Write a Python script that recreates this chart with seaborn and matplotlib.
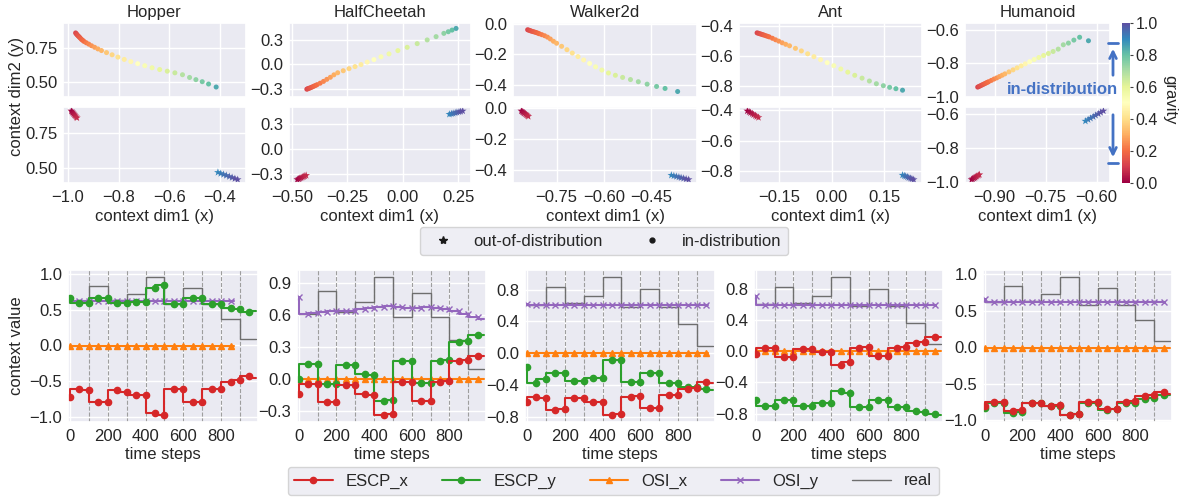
########################################################
# Required Python Packages
########################################################

import matplotlib
matplotlib.use("Agg")
import matplotlib as mpl
import matplotlib.pyplot as plt
from matplotlib.lines import Line2D
from matplotlib.patches import FancyArrowPatch
import seaborn as sns

########################################################
# Data : context embeddings (top) and context values (bottom)
########################################################

ENVS = ["Hopper", "HalfCheetah", "Walker2d", "Ant", "Humanoid"]

# gravity of every in-distribution point (same order for all envs)
G_ID = [0.12, 0.13, 0.14, 0.15, 0.16, 0.17, 0.18, 0.19, 0.20, 0.22, 0.24,
        0.26, 0.28, 0.30, 0.32, 0.35, 0.38, 0.41, 0.44, 0.47, 0.50, 0.53,
        0.56, 0.59, 0.62, 0.65, 0.68, 0.71, 0.74, 0.77, 0.80, 0.84]
# gravity of the out-of-distribution points (low cluster, high cluster)
G_OOD = [0.00, 0.01, 0.02, 0.03, 0.04, 0.05, 0.06, 0.07,
         0.90, 0.915, 0.93, 0.945, 0.96, 0.975, 0.99, 1.00]

HOPPER_ID_X = [-0.970, -0.967, -0.964, -0.960, -0.956, -0.952, -0.947, -0.942,
               -0.937, -0.928, -0.918, -0.907, -0.895, -0.882, -0.868, -0.848,
               -0.826, -0.803, -0.778, -0.752, -0.725, -0.697, -0.668, -0.638,
               -0.608, -0.578, -0.548, -0.520, -0.495, -0.470, -0.445, -0.415]
HOPPER_ID_Y = [0.862, 0.855, 0.848, 0.840, 0.833, 0.825, 0.815, 0.808,
               0.800, 0.790, 0.780, 0.768, 0.757, 0.745, 0.733, 0.718,
               0.702, 0.685, 0.668, 0.652, 0.637, 0.622, 0.607, 0.594,
               0.582, 0.570, 0.556, 0.536, 0.520, 0.505, 0.488, 0.466]
HOPPER_OOD_X = [-0.987, -0.984, -0.981, -0.978, -0.975, -0.972, -0.968, -0.965,
                -0.408, -0.397, -0.386, -0.375, -0.363, -0.352, -0.341, -0.330]
HOPPER_OOD_Y = [0.910, 0.903, 0.896, 0.889, 0.882, 0.875, 0.867, 0.860,
                0.466, 0.458, 0.451, 0.444, 0.436, 0.429, 0.421, 0.414]

CHEETAH_ID_X = [-0.432, -0.428, -0.423, -0.418, -0.412, -0.406, -0.400, -0.393,
                -0.386, -0.372, -0.357, -0.342, -0.326, -0.310, -0.293, -0.268,
                -0.242, -0.215, -0.188, -0.160, -0.130, -0.098, -0.062, -0.022,
                0.020, 0.065, 0.110, 0.150, 0.185, 0.205, 0.222, 0.240]
CHEETAH_ID_Y = [-0.305, -0.300, -0.295, -0.290, -0.283, -0.276, -0.268, -0.260,
                -0.250, -0.232, -0.210, -0.185, -0.160, -0.130, -0.105, -0.080,
                -0.055, -0.030, -0.005, 0.025, 0.055, 0.090, 0.125, 0.165,
                0.205, 0.250, 0.295, 0.335, 0.375, 0.395, 0.415, 0.435]
CHEETAH_OOD_X = [-0.475, -0.469, -0.464, -0.458, -0.452, -0.446, -0.441, -0.435,
                 0.210, 0.219, 0.227, 0.236, 0.244, 0.253, 0.261, 0.270]
CHEETAH_OOD_Y = [-0.365, -0.358, -0.351, -0.344, -0.336, -0.329, -0.322, -0.315,
                 0.420, 0.426, 0.431, 0.437, 0.443, 0.449, 0.454, 0.460]

WALKER_ID_X = [-0.842, -0.838, -0.834, -0.830, -0.825, -0.820, -0.815, -0.810,
               -0.805, -0.797, -0.788, -0.779, -0.770, -0.760, -0.750, -0.734,
               -0.717, -0.700, -0.682, -0.664, -0.645, -0.626, -0.606, -0.585,
               -0.563, -0.540, -0.515, -0.490, -0.462, -0.432, -0.405, -0.365]
WALKER_ID_Y = [-0.040, -0.043, -0.046, -0.049, -0.052, -0.055, -0.058, -0.062,
               -0.066, -0.072, -0.079, -0.088, -0.100, -0.115, -0.128, -0.148,
               -0.170, -0.192, -0.215, -0.237, -0.260, -0.282, -0.303, -0.322,
               -0.337, -0.351, -0.365, -0.379, -0.395, -0.410, -0.423, -0.443]
WALKER_OOD_X = [-0.862, -0.859, -0.856, -0.853, -0.849, -0.846, -0.843, -0.840,
                -0.385, -0.377, -0.369, -0.361, -0.354, -0.346, -0.338, -0.330]
WALKER_OOD_Y = [-0.018, -0.023, -0.028, -0.033, -0.038, -0.043, -0.048, -0.053,
                -0.432, -0.436, -0.440, -0.444, -0.448, -0.452, -0.456, -0.460]

ANT_ID_X = [-0.214, -0.210, -0.206, -0.202, -0.198, -0.194, -0.189, -0.184,
            -0.179, -0.170, -0.161, -0.152, -0.142, -0.132, -0.121, -0.104,
            -0.087, -0.069, -0.051, -0.032, -0.013, 0.006, 0.026, 0.046,
            0.066, 0.087, 0.108, 0.128, 0.148, 0.166, 0.184, 0.203]
ANT_ID_Y = [-0.448, -0.451, -0.454, -0.457, -0.460, -0.463, -0.467, -0.471,
            -0.475, -0.484, -0.494, -0.503, -0.514, -0.524, -0.534, -0.551,
            -0.568, -0.587, -0.606, -0.626, -0.646, -0.666, -0.688, -0.709,
            -0.730, -0.749, -0.768, -0.786, -0.799, -0.810, -0.819, -0.829]
ANT_OOD_X = [-0.242, -0.237, -0.233, -0.228, -0.224, -0.219, -0.215, -0.210,
             0.203, 0.208, 0.212, 0.217, 0.221, 0.226, 0.230, 0.235]
ANT_OOD_Y = [-0.405, -0.411, -0.417, -0.423, -0.430, -0.436, -0.442, -0.448,
             -0.826, -0.830, -0.834, -0.838, -0.843, -0.847, -0.851, -0.855]

HUMANOID_ID_X = [-0.950, -0.946, -0.942, -0.938, -0.934, -0.930, -0.926, -0.922,
                 -0.918, -0.910, -0.902, -0.894, -0.886, -0.878, -0.870, -0.858,
                 -0.846, -0.834, -0.822, -0.810, -0.797, -0.784, -0.770, -0.756,
                 -0.742, -0.728, -0.713, -0.698, -0.683, -0.667, -0.650, -0.624]
HUMANOID_ID_Y = [-0.943, -0.939, -0.935, -0.931, -0.927, -0.923, -0.919, -0.915,
                 -0.911, -0.903, -0.895, -0.888, -0.880, -0.872, -0.864, -0.852,
                 -0.840, -0.828, -0.816, -0.804, -0.791, -0.778, -0.766, -0.754,
                 -0.742, -0.730, -0.716, -0.690, -0.680, -0.662, -0.645, -0.666]
HUMANOID_OOD_X = [-0.968, -0.965, -0.961, -0.958, -0.955, -0.952, -0.948, -0.945,
                  -0.633, -0.625, -0.618, -0.610, -0.603, -0.595, -0.588, -0.580]
HUMANOID_OOD_Y = [-0.985, -0.981, -0.977, -0.973, -0.968, -0.964, -0.960, -0.956,
                  -0.640, -0.631, -0.623, -0.614, -0.606, -0.597, -0.589, -0.580]

# time steps: marker every 50 steps, last entry is where the line stops
T_FULL = [0, 50, 100, 150, 200, 250, 300, 350, 400, 450, 500,
          550, 600, 650, 700, 750, 800, 850, 900, 950, 985]
T_SHORT = [0, 50, 100, 150, 200, 250, 300, 350, 400, 450, 500,
           550, 600, 650, 700, 750, 800, 850, 900, 950, 960]
T_HOPPER_OSI = [0, 50, 100, 150, 200, 250, 300, 350, 400, 450,
                500, 550, 600, 650, 700, 750, 800, 850, 870]

REAL_T = [0, 100, 200, 300, 400, 500, 600, 700, 800, 900, 985]
REAL_V = [0.61, 0.83, 0.63, 0.72, 0.96, 0.58, 0.81, 0.58, 0.37, 0.09, 0.09]

HOPPER_ESCP_X = [-0.72, -0.62, -0.63, -0.80, -0.80, -0.63, -0.65, -0.70, -0.70, -0.95, -0.98,
                 -0.62, -0.62, -0.79, -0.79, -0.62, -0.62, -0.51, -0.49, -0.43, -0.46]
HOPPER_ESCP_Y = [0.67, 0.59, 0.59, 0.67, 0.67, 0.59, 0.59, 0.61, 0.61, 0.80, 0.85,
                 0.58, 0.58, 0.67, 0.66, 0.58, 0.58, 0.53, 0.51, 0.47, 0.48]
HOPPER_OSI_X = [-0.01, -0.01, -0.01, -0.01, -0.01, -0.01, -0.01, -0.01, -0.01, -0.01,
                -0.01, -0.01, -0.01, -0.01, -0.01, -0.01, -0.01, -0.01, -0.01]
HOPPER_OSI_Y = [0.64, 0.62, 0.62, 0.62, 0.62, 0.62, 0.62, 0.62, 0.62, 0.62,
                0.62, 0.62, 0.62, 0.62, 0.62, 0.62, 0.62, 0.62, 0.62]

CHEETAH_ESCP_X = [-0.14, -0.05, -0.05, -0.22, -0.22, -0.06, -0.06, -0.14, -0.15, -0.34, -0.33,
                  -0.03, -0.03, -0.21, -0.21, -0.03, -0.02, 0.17, 0.18, 0.22, 0.22]
CHEETAH_ESCP_Y = [0.00, 0.14, 0.14, -0.05, -0.05, 0.13, 0.13, 0.05, 0.04, -0.21, -0.20,
                  0.17, 0.17, -0.04, -0.04, 0.17, 0.18, 0.35, 0.36, 0.41, 0.41]
CHEETAH_OSI_X = [0.00, 0.00, 0.00, 0.00, 0.00, 0.00, 0.00, 0.00, 0.00, 0.00, 0.00,
                 0.00, 0.00, 0.00, 0.00, 0.00, 0.00, 0.00, 0.00, 0.00, 0.00]
CHEETAH_OSI_Y = [0.77, 0.61, 0.62, 0.63, 0.64, 0.64, 0.64, 0.66, 0.67, 0.68, 0.69,
                 0.68, 0.67, 0.67, 0.68, 0.67, 0.66, 0.64, 0.61, 0.58, 0.56]

WALKER_ESCP_X = [-0.62, -0.55, -0.56, -0.72, -0.70, -0.56, -0.56, -0.61, -0.62, -0.78, -0.77,
                 -0.55, -0.54, -0.69, -0.69, -0.53, -0.53, -0.45, -0.44, -0.36, -0.38]
WALKER_ESCP_Y = [-0.17, -0.37, -0.33, -0.25, -0.25, -0.35, -0.35, -0.31, -0.31, -0.08, -0.09,
                 -0.36, -0.36, -0.25, -0.25, -0.37, -0.38, -0.42, -0.42, -0.45, -0.46]
WALKER_OSI_X = [0.00, 0.00, 0.00, 0.00, 0.00, 0.00, 0.00, 0.00, 0.00, 0.00, 0.00,
                0.00, 0.00, 0.00, 0.00, 0.00, 0.00, 0.00, 0.00, 0.00, 0.00]
WALKER_OSI_Y = [0.62, 0.61, 0.61, 0.61, 0.61, 0.61, 0.61, 0.61, 0.61, 0.61, 0.61,
                0.61, 0.61, 0.61, 0.61, 0.61, 0.61, 0.61, 0.60, 0.60, 0.60]

ANT_ESCP_X = [-0.03, 0.04, 0.04, -0.07, -0.07, 0.03, 0.03, -0.01, -0.01, -0.17, -0.14,
              0.05, 0.06, -0.06, -0.06, 0.05, 0.06, 0.11, 0.12, 0.19, 0.19]
ANT_ESCP_Y = [-0.62, -0.70, -0.70, -0.62, -0.62, -0.70, -0.70, -0.67, -0.67, -0.51, -0.53,
              -0.72, -0.72, -0.63, -0.63, -0.72, -0.72, -0.77, -0.78, -0.81, -0.82]
ANT_OSI_X = [0.00, 0.00, 0.00, 0.00, 0.00, 0.00, 0.00, 0.00, 0.00, 0.00, 0.00,
             0.00, 0.00, 0.00, 0.00, 0.00, 0.00, 0.00, 0.00, 0.00, 0.00]
ANT_OSI_Y = [0.71, 0.60, 0.60, 0.60, 0.60, 0.60, 0.60, 0.60, 0.60, 0.60, 0.60,
             0.60, 0.60, 0.60, 0.60, 0.60, 0.60, 0.60, 0.60, 0.60, 0.60]

HUMANOID_ESCP_X = [-0.80, -0.75, -0.75, -0.87, -0.86, -0.76, -0.77, -0.80, -0.79, -0.93, -0.91,
                   -0.75, -0.745, -0.85, -0.84, -0.75, -0.74, -0.67, -0.66, -0.62, -0.64]
HUMANOID_ESCP_Y = [-0.83, -0.77, -0.77, -0.90, -0.89, -0.77, -0.77, -0.80, -0.80, -0.93, -0.92,
                   -0.76, -0.76, -0.86, -0.85, -0.77, -0.76, -0.71, -0.69, -0.66, -0.65]
HUMANOID_OSI_X = [-0.01, -0.01, -0.01, -0.01, -0.01, -0.01, -0.01, -0.01, -0.01, -0.01, -0.01,
                  -0.01, -0.01, -0.01, -0.01, -0.01, -0.01, -0.01, -0.01, -0.01, -0.01]
HUMANOID_OSI_Y = [0.66, 0.62, 0.62, 0.62, 0.62, 0.62, 0.62, 0.62, 0.62, 0.62, 0.62,
                  0.62, 0.62, 0.62, 0.62, 0.62, 0.62, 0.62, 0.62, 0.62, 0.62]

TOP_XTICKS = [[-1.0, -0.8, -0.6, -0.4], [-0.5, -0.25, 0.0, 0.25], [-0.75, -0.6, -0.45],
              [-0.15, 0.0, 0.15], [-0.9, -0.75, -0.6]]
TOP_YTICKS = [[0.5, 0.75], [-0.3, 0.0, 0.3], [-0.4, -0.2, 0.0], [-0.8, -0.6, -0.4],
              [-1.0, -0.8, -0.6]]
BOT_YTICKS = [[-1.0, -0.5, 0.0, 0.5, 1.0], [-0.3, 0.0, 0.3, 0.6, 0.9],
              [-0.8, -0.4, 0.0, 0.4, 0.8], [-0.8, -0.4, 0.0, 0.4, 0.8],
              [-1.0, -0.5, 0.0, 0.5, 1.0]]

########################################################
# Layout (pixels of the 1181 x 498 picture)
########################################################

W, H = 1181, 498
TOP_COLS = [(63, 246), (289, 471), (513, 697), (739, 922), (965, 1110)]
BOT_COLS = [(68, 258), (297, 486), (525, 715), (754, 943), (983, 1172)]

COLORS = {"ESCP_x": "#d62728", "ESCP_y": "#2ca02c", "OSI_x": "#ff7f0e",
          "OSI_y": "#9467bd", "real": "#6e6e6e"}
BLUE = "#4472C4"


def Box(x0, y0, x1, y1):
    return [x0 / W, 1 - y1 / H, (x1 - x0) / W, (y1 - y0) / H]


def FX(px):
    return px / W


def FY(py):
    return 1 - py / H


########################################################
# Top row : context embedding scatter
########################################################

def Draw_Top(fig, col, name, id_x, id_y, ood_x, ood_y):
    x0, x1 = TOP_COLS[col]
    ax_id = fig.add_axes(Box(x0, 23, x1, 97.5))
    ax_ood = fig.add_axes(Box(x0, 107.5, x1, 183), sharex=ax_id, sharey=ax_id)

    sns.scatterplot(x=id_x, y=id_y, hue=G_ID, palette="Spectral", hue_norm=(0, 1),
                    s=13, linewidth=0, legend=False, ax=ax_id)
    sns.scatterplot(x=ood_x, y=ood_y, hue=G_OOD, palette="Spectral", hue_norm=(0, 1),
                    marker="*", s=34, linewidth=0, legend=False, ax=ax_ood)

    ax_id.set_title(name, pad=4)
    ax_id.tick_params(labelbottom=False)
    ax_ood.set_xticks(TOP_XTICKS[col])
    ax_ood.set_yticks(TOP_YTICKS[col])
    ax_ood.set_xlabel("context dim1 (x)", labelpad=3)


########################################################
# Bottom row : context value over time
########################################################

def Draw_Line(ax, t, v, key, marker, ms, drawstyle="steps-pre"):
    sns.lineplot(x=t, y=v, ax=ax, color=COLORS[key], marker=marker, ms=ms,
                 mec=COLORS[key], mfc=COLORS[key], mew=1.0, lw=1.5,
                 markevery=list(range(len(t) - 1)), drawstyle=drawstyle,
                 estimator=None, errorbar=None, legend=False, label=key)


def Draw_Bottom(fig, col, escp_x, escp_y, osi_t_x, osi_x, osi_t_y, osi_y):
    x0, x1 = BOT_COLS[col]
    ax = fig.add_axes(Box(x0, 270, x1, 422))

    for t in range(100, 1000, 100):
        ax.axvline(t, color="0.62", ls="--", lw=0.8, zorder=1)

    sns.lineplot(x=REAL_T, y=REAL_V, ax=ax, color=COLORS["real"], lw=1.0,
                 drawstyle="steps-post", estimator=None, errorbar=None,
                 legend=False, label="real")
    Draw_Line(ax, osi_t_y, osi_y, "OSI_y", "x", 4.5)
    Draw_Line(ax, osi_t_x, osi_x, "OSI_x", "^", 4.5)
    Draw_Line(ax, T_FULL, escp_y, "ESCP_y", "o", 4.5)
    Draw_Line(ax, T_FULL, escp_x, "ESCP_x", "o", 4.5)

    ax.set_xlim(-10, 995)
    ax.set_xticks([0, 200, 400, 600, 800])
    ax.set_yticks(BOT_YTICKS[col])
    ax.set_xlabel("time steps", labelpad=2)
    return ax


########################################################
# Main Execution
########################################################

def main():
    sns.set_theme(style="darkgrid", rc={
        "xtick.labelsize": 12, "ytick.labelsize": 12, "axes.labelsize": 12,
        "axes.titlesize": 12, "legend.fontsize": 12,
        "xtick.major.size": 0, "ytick.major.size": 0,
        "xtick.major.pad": 5, "ytick.major.pad": 4,
    })
    plt.rcParams["font.family"] = ["Liberation Sans", "DejaVu Sans"]

    fig = plt.figure(figsize=(W / 100, H / 100), dpi=100)

    top = [(HOPPER_ID_X, HOPPER_ID_Y, HOPPER_OOD_X, HOPPER_OOD_Y),
           (CHEETAH_ID_X, CHEETAH_ID_Y, CHEETAH_OOD_X, CHEETAH_OOD_Y),
           (WALKER_ID_X, WALKER_ID_Y, WALKER_OOD_X, WALKER_OOD_Y),
           (ANT_ID_X, ANT_ID_Y, ANT_OOD_X, ANT_OOD_Y),
           (HUMANOID_ID_X, HUMANOID_ID_Y, HUMANOID_OOD_X, HUMANOID_OOD_Y)]
    for col, (name, data) in enumerate(zip(ENVS, top)):
        Draw_Top(fig, col, name, *data)

    bottom = [(HOPPER_ESCP_X, HOPPER_ESCP_Y, T_HOPPER_OSI, HOPPER_OSI_X, T_HOPPER_OSI, HOPPER_OSI_Y),
              (CHEETAH_ESCP_X, CHEETAH_ESCP_Y, T_FULL, CHEETAH_OSI_X, T_FULL, CHEETAH_OSI_Y),
              (WALKER_ESCP_X, WALKER_ESCP_Y, T_SHORT, WALKER_OSI_X, T_SHORT, WALKER_OSI_Y),
              (ANT_ESCP_X, ANT_ESCP_Y, T_FULL, ANT_OSI_X, T_SHORT, ANT_OSI_Y),
              (HUMANOID_ESCP_X, HUMANOID_ESCP_Y, T_FULL, HUMANOID_OSI_X, T_SHORT, HUMANOID_OSI_Y)]
    bot_axes = [Draw_Bottom(fig, col, *data) for col, data in enumerate(bottom)]

    # colorbar for gravity
    cax = fig.add_axes(Box(1122, 22.7, 1130, 182.7))
    sm = mpl.cm.ScalarMappable(norm=mpl.colors.Normalize(0, 1), cmap="Spectral")
    cb = fig.colorbar(sm, cax=cax, ticks=[0.0, 0.2, 0.4, 0.6, 0.8, 1.0])
    cb.outline.set_visible(False)
    cax.tick_params(right=True, length=2.5, width=0.8, color="0.25", pad=1.5,
                    labelsize=11.5)
    fig.text(FX(1170), FY(100), "gravity", rotation=270, ha="center", va="center",
             fontsize=12)

    # in-distribution range marker
    fig.text(FX(1062), FY(90), "in-distribution", color=BLUE, fontweight="bold",
             ha="center", va="center", fontsize=12)
    for y_tail, y_head, y_bar in [(78, 46, 42.7), (112, 160, 163.3)]:
        fig.add_artist(FancyArrowPatch((FX(1113), FY(y_tail)), (FX(1113), FY(y_head)),
                                       transform=fig.transFigure, arrowstyle="->",
                                       mutation_scale=12, lw=2, color=BLUE))
        fig.add_artist(Line2D([FX(1108), FX(1118)], [FY(y_bar), FY(y_bar)],
                              transform=fig.transFigure, color=BLUE, lw=2))

    # shared labels
    fig.text(FX(17), FY(96), "context dim2 (y)", rotation=90, ha="center",
             va="center", fontsize=12)
    fig.text(FX(17), FY(346), "context value", rotation=90, ha="center",
             va="center", fontsize=12)

    # marker legend
    marks = [Line2D([], [], marker="*", color="k", ls="none", ms=6),
             Line2D([], [], marker="o", color="k", ls="none", ms=3.5)]
    fig.legend(marks, ["out-of-distribution", "in-distribution"], ncol=2,
               loc="center", bbox_to_anchor=(FX(604), FY(241)))

    # line legend
    handles, labels = bot_axes[0].get_legend_handles_labels()
    lookup = dict(zip(labels, handles))
    order = ["ESCP_x", "ESCP_y", "OSI_x", "OSI_y", "real"]
    fig.legend([lookup[k] for k in order], order, ncol=5, loc="center",
               handlelength=2.3, bbox_to_anchor=(FX(613), FY(481)))

    fig.savefig("out.png", dpi=100)


########################################################
# Run Main
########################################################

if __name__ == "__main__":
    main()
